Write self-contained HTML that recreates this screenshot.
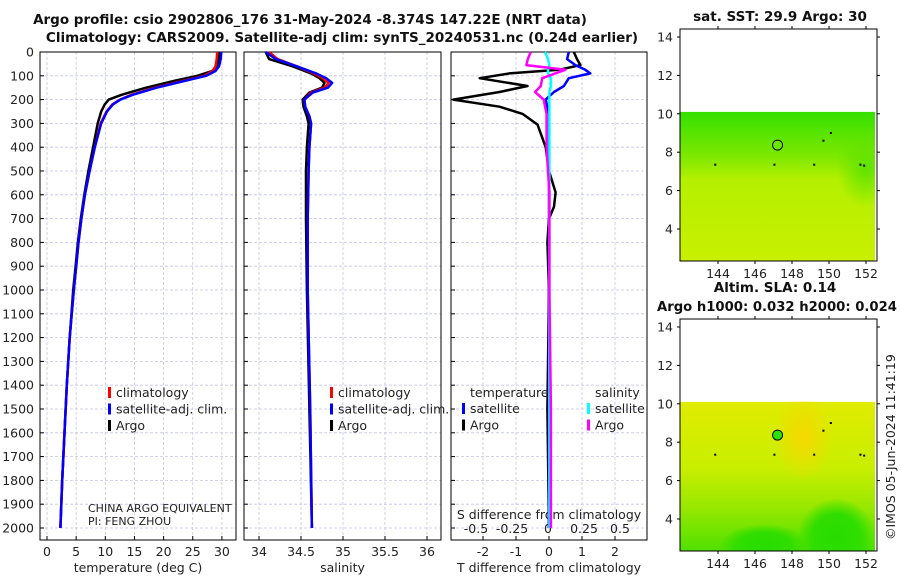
<!DOCTYPE html>
<html><head><meta charset="utf-8">
<style>
html,body{margin:0;padding:0;background:#fff;}
svg{display:block;font-family:"DejaVu Sans","Liberation Sans",sans-serif;}
.t{font-size:12.5px;fill:#222;}
.b{font-size:13.5px;font-weight:bold;fill:#111;}
.grid{stroke:#c5c5e6;stroke-width:0.8;stroke-dasharray:3,2;}
</style></head>
<body>
<svg id="fig" width="900" height="580" viewBox="0 0 900 580">
<defs>
<linearGradient id="m1" x1="0" y1="0" x2="0" y2="1">
<stop offset="0" stop-color="#34e000"/><stop offset="0.3" stop-color="#7ee800"/><stop offset="0.45" stop-color="#b4f000"/><stop offset="1" stop-color="#c8f000"/></linearGradient>
<linearGradient id="m2" x1="0" y1="0" x2="0" y2="1">
<stop offset="0" stop-color="#e0ec00"/><stop offset="0.45" stop-color="#c8ee00"/><stop offset="0.7" stop-color="#9ae800"/><stop offset="1" stop-color="#50e000"/></linearGradient>
<radialGradient id="or" cx="0.5" cy="0.5" r="0.5"><stop offset="0" stop-color="#f6d800"/><stop offset="1" stop-color="#f6d800" stop-opacity="0"/></radialGradient>
<radialGradient id="gr" cx="0.5" cy="0.5" r="0.5"><stop offset="0" stop-color="#28dc00"/><stop offset="0.6" stop-color="#30de00"/><stop offset="1" stop-color="#30de00" stop-opacity="0"/></radialGradient>
<radialGradient id="gr1" cx="0.5" cy="0.5" r="0.5"><stop offset="0" stop-color="#5ee200"/><stop offset="1" stop-color="#5ee200" stop-opacity="0"/></radialGradient>
<clipPath id="c1"><rect x="680" y="111" width="195" height="150"/></clipPath>
<clipPath id="c2"><rect x="680" y="401" width="195" height="150"/></clipPath>
</defs>
<text class="b" x="310" y="24" text-anchor="middle">Argo profile: csio 2902806_176 31-May-2024 -8.374S 147.22E (NRT data)</text>
<text class="b" x="342" y="42" text-anchor="middle">Climatology: CARS2009. Satellite-adj clim: synTS_20240531.nc (0.24d earlier)</text>
<g id="p1"></g>
<g id="p2"></g>
<g id="p3"></g>
<g id="m1g"></g>
<g id="m2g"></g>
<text class="t" transform="translate(895,540) rotate(-90)">©IMOS 05-Jun-2024 11:41:19</text>
</svg>
<script>
// ---- data ----
const depthTicks=[0,100,200,300,400,500,600,700,800,900,1000,1100,1200,1300,1400,1500,1600,1700,1800,1900,2000];
const tempTicks=[0,5,10,15,20,25,30];
const salTicks=[34,34.5,35,35.5,36];
const salTickLabels=["34","34.5","35","35.5","36"];
const tdiffTicks=[-2,-1,0,1,2];
const sdiffTicks=[-0.5,-0.25,0,0.25,0.5];
const sdiffTickLabels=["-0.5","-0.25","0","0.25","0.5"];

const tDepth=[0,30,60,80,100,120,150,180,200,220,250,300,400,500,600,700,800,900,1000,1200,1400,1600,1800,2000];
const tArgo=[29.6,29.5,29.2,28.3,25.8,22,17,12.8,10.6,9.9,9.3,8.7,7.9,7.1,6.4,5.8,5.3,4.9,4.5,3.9,3.4,3.0,2.6,2.3];
const tClim=[29.2,29.1,28.9,28.4,27,23.5,18.5,14.5,12.5,11.2,10.2,9.2,8.2,7.3,6.5,5.9,5.4,5.0,4.6,3.9,3.4,3.0,2.6,2.3];
const tSat=[29.9,29.8,29.5,28.9,27.3,23.8,18.8,14.7,12.6,11.3,10.3,9.3,8.2,7.3,6.5,5.9,5.4,5.0,4.6,3.9,3.4,3.0,2.6,2.3];

const sDepth=[0,30,60,90,110,130,150,170,200,230,270,300,400,500,700,1000,1500,2000];
const sArgo=[34.08,34.12,34.4,34.62,34.72,34.78,34.75,34.6,34.52,34.53,34.57,34.59,34.57,34.56,34.56,34.57,34.6,34.63];
const sClim=[34.12,34.22,34.45,34.65,34.76,34.83,34.78,34.62,34.54,34.55,34.6,34.62,34.6,34.59,34.58,34.58,34.61,34.63];
const sSat=[34.08,34.2,34.45,34.68,34.8,34.87,34.82,34.64,34.54,34.55,34.6,34.62,34.6,34.59,34.58,34.58,34.61,34.63];

const dDepth=[0,30,55,75,90,110,143,168,200,230,260,305,400,500,590,650,700,800,1000,1500,2000];
const dtArgo=[0.75,0.85,0.95,0.3,-1.2,-2.1,-0.65,-1.5,-2.9,-1.5,-0.8,-0.35,-0.1,0.0,0.2,0.15,0.0,-0.05,0,-0.05,0];
const dtSat=[0.6,0.55,0.8,1.1,1.25,0.6,0.45,0.15,-0.1,-0.05,0,0,0,0,0,0,0,0,0,0,0];
const dsArgo=[-0.12,-0.14,-0.15,0.12,0.05,-0.04,-0.05,-0.09,-0.03,-0.02,-0.01,-0.01,-0.01,0,0.01,0.01,0.01,0.01,0.01,0.02,0.02];
const dsSat=[-0.02,0,0.01,0,0,0.02,0.02,0.01,0.01,0.01,0.01,0.01,0.01,0.01,0.01,0.01,0.01,0.01,0.01,0.01,0.01];

const mapLatTicks=[4,6,8,10,12,14];
const mapLonTicks=[144,146,148,150,152];
const argoLon=147.22, argoLat=8.37;
</script>
<script>
const NS="http://www.w3.org/2000/svg";
function mk(tag,parent,at){const e=document.createElementNS(NS,tag);for(const k in at)e.setAttribute(k,at[k]);parent.appendChild(e);return e;}
const Y=d=>52+d*0.238;
const yBottom=540;
function panel(g,x0,x1,xs,ticks,labels,xlabel,showY){
  for(const d of depthTicks){const l=mk('line',g,{x1:x0,x2:x1,y1:Y(d),y2:Y(d),class:'grid'});
    const tk=mk('line',g,{x1:x0,x2:x0+4,y1:Y(d),y2:Y(d),stroke:'#000'});
    if(showY){const t=mk('text',g,{x:x0-6,y:Y(d)+4.5,'text-anchor':'end',class:'t'});t.textContent=d;}}
  ticks.forEach((v,i)=>{const x=xs(v);const l=mk('line',g,{x1:x,x2:x,y1:52,y2:yBottom,class:'grid'});
    const tk=mk('line',g,{x1:x,x2:x,y1:yBottom,y2:yBottom-4,stroke:'#000'});
    if(labels){const t=mk('text',g,{x:x,y:556,'text-anchor':'middle',class:'t'});t.textContent=labels[i];}});
  const r=mk('rect',g,{x:x0,y:52,width:x1-x0,height:yBottom-52,fill:'none',stroke:'#000','stroke-width':1});
  if(xlabel){const t=mk('text',g,{x:(x0+x1)/2,y:572,'text-anchor':'middle',class:'t'});t.textContent=xlabel;}
}
function line(g,xs,vals,depths,color,w,name){
  const pts=vals.map((v,i)=>xs(v).toFixed(1)+','+Y(depths[i]).toFixed(1)).join(' ');
  const p=mk('polyline',g,{points:pts,fill:'none',stroke:color,'stroke-width':w,'stroke-linejoin':'round'});
  
}
function legend(g,x,y,items){
  items.forEach((it,i)=>{const yy=y+i*16.5;
    const r=mk('rect',g,{x:x,y:yy-10,width:3,height:11,fill:it[1]});
    const t=mk('text',g,{x:x+8,y:yy,class:'t'});t.textContent=it[0];});
}
// Panel 1
const p1=document.getElementById('p1');
const xT=v=>47+v*5.83;
panel(p1,40,236,xT,tempTicks,tempTicks.map(String),'temperature (deg C)',true);
line(p1,xT,tArgo,tDepth,'#000',2.5,'argo-temperature-line');
line(p1,xT,tClim,tDepth,'#f00',2.5,'climatology-temperature-line');
line(p1,xT,tSat,tDepth,'#00f',2.5,'satellite-temperature-line');
legend(p1,108,397,[['climatology','#f00'],['satellite-adj. clim.','#00f'],['Argo','#000']]);
let t=mk('text',p1,{x:88,y:512,style:'font-size:11px;fill:#222'});t.textContent='CHINA ARGO EQUIVALENT';
t=mk('text',p1,{x:88,y:525,style:'font-size:11px;fill:#222'});t.textContent='PI: FENG ZHOU';
// Panel 2
const p2=document.getElementById('p2');
const xS=v=>259+(v-34)*84;
panel(p2,244,441,xS,salTicks,salTickLabels,'salinity',false);
line(p2,xS,sArgo,sDepth,'#000',2.5,'argo-salinity-line');
line(p2,xS,sClim,sDepth,'#f00',2.5,'climatology-salinity-line');
line(p2,xS,sSat,sDepth,'#00f',2.5,'satellite-salinity-line');
legend(p2,330,397,[['climatology','#f00'],['satellite-adj. clim.','#00f'],['Argo','#000']]);
// Panel 3
const p3=document.getElementById('p3');
const xD=v=>549+v*33;
const xSD=v=>548+v*144;
panel(p3,451,647,xD,tdiffTicks,tdiffTicks.map(String),'T difference from climatology',false);
sdiffTicks.forEach((v,i)=>{const tt=mk('text',p3,{x:xSD(v),y:533,'text-anchor':'middle',class:'t'});tt.textContent=sdiffTickLabels[i];});
t=mk('text',p3,{x:549,y:519,'text-anchor':'middle',class:'t'});t.textContent='S difference from climatology';
line(p3,xD,dtArgo,dDepth,'#000',2.5,'argo-t-diff-line');
line(p3,xD,dtSat,dDepth,'#00f',2.5,'satellite-t-diff-line');
line(p3,xSD,dsSat,dDepth,'#0ff',2.5,'satellite-s-diff-line');
line(p3,xSD,dsArgo,dDepth,'#f0f',2.5,'argo-s-diff-line');
t=mk('text',p3,{x:470,y:397,class:'t'});t.textContent='temperature';
t=mk('text',p3,{x:595,y:397,class:'t'});t.textContent='salinity';
legend(p3,462,413,[['satellite','#00f'],['Argo','#000']]);
legend(p3,587,413,[['satellite','#0ff'],['Argo','#f0f']]);
// Maps
function map(g,top,bottom,lat14,lat4,grad,clip,title1,title2,filled){
  const lon=v=>718+(v-144)*18.5;
  const lat=v=>lat4-(v-4)*(lat4-lat14)/10;
  const cg=mk('g',g,{'clip-path':'url(#'+clip+')'});
  
  const r=mk('rect',cg,{x:680,y:lat(10.1),width:195,height:bottom-lat(10.1),fill:'url(#'+grad+')'});
  if(grad==='m2'){
    let e=mk('ellipse',cg,{cx:lon(148.6),cy:lat(8.3),rx:30,ry:45,fill:'url(#or)'});
    e=mk('ellipse',cg,{cx:lon(150.4),cy:lat(3),rx:40,ry:40,fill:'url(#gr)'});
    e=mk('ellipse',cg,{cx:lon(146.5),cy:lat(2.6),rx:45,ry:22,fill:'url(#gr)'});
  } else {
    let e=mk('ellipse',cg,{cx:lon(152),cy:lat(7.2),rx:30,ry:40,fill:'url(#gr1)'});
  }
  [[143.85,7.35],[147.05,7.35],[149.2,7.35],[149.7,8.6],[150.1,9],[151.7,7.35],[151.9,7.3]].forEach(p=>{const d=mk('rect',g,{x:lon(p[0])-1,y:lat(p[1])-1,width:2,height:2,fill:'#000'});});
  const c=mk('circle',g,{cx:lon(argoLon),cy:lat(argoLat),r:5,fill:filled?'#2ee000':'none',stroke:'#000','stroke-width':1});
  const f=mk('rect',g,{x:680,y:top,width:197,height:bottom-top,fill:'none',stroke:'#000'});
  mapLatTicks.forEach(v=>{const y=lat(v);
    let l=mk('line',g,{x1:677,x2:680,y1:y,y2:y,stroke:'#000'});
    l=mk('line',g,{x1:877,x2:880,y1:y,y2:y,stroke:'#000'});
    const tt=mk('text',g,{x:673,y:y+4.5,'text-anchor':'end',class:'t'});tt.textContent=v;});
  mapLonTicks.forEach(v=>{const x=lon(v);
    let l=mk('line',g,{x1:x,x2:x,y1:top-3,y2:top,stroke:'#000'});
    l=mk('line',g,{x1:x,x2:x,y1:bottom,y2:bottom+3,stroke:'#000'});
    const tt=mk('text',g,{x:x,y:bottom+17,'text-anchor':'middle',class:'t'});tt.textContent=v;});
  if(title2){let tt=mk('text',g,{x:775,y:top-27,'text-anchor':'middle',class:'b'});tt.textContent=title1;
    tt=mk('text',g,{x:777,y:top-8,'text-anchor':'middle',class:'b',textLength:240,lengthAdjust:'spacingAndGlyphs'});tt.textContent=title2;}
  else{let tt=mk('text',g,{x:780,y:top-8,'text-anchor':'middle',class:'b'});tt.textContent=title1;}
}
map(document.getElementById('m1g'),29,261,37,229,'m1','c1','sat. SST: 29.9 Argo: 30',null,false);
map(document.getElementById('m2g'),319,551,327,519,'m2','c2','Altim. SLA: 0.14','Argo h1000: 0.032 h2000: 0.024',true);
</script>
</body></html>
